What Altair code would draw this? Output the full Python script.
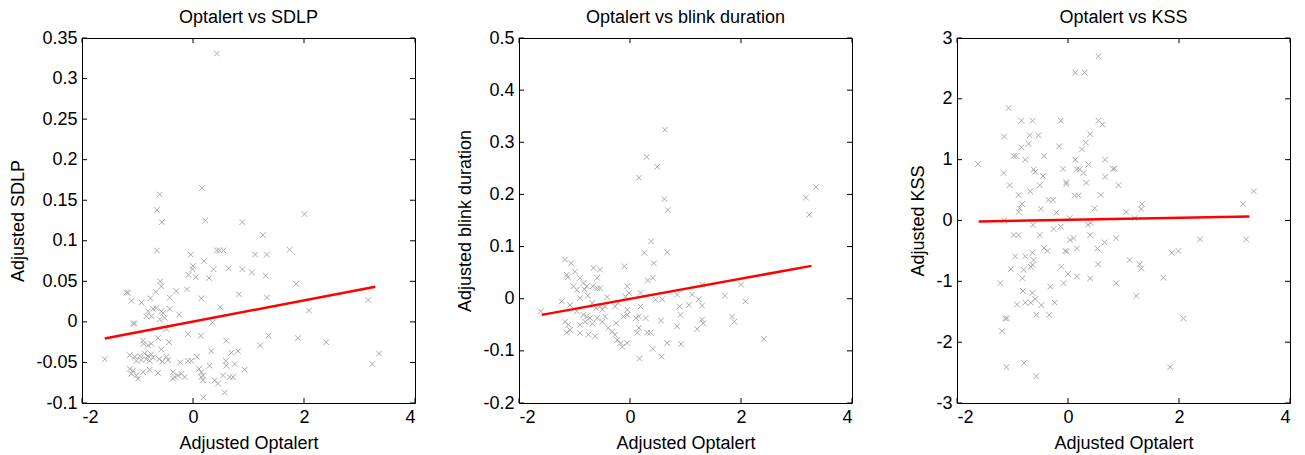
import altair as alt
import pandas as pd

# ---------------- data ----------------
X_TICKS = [-2, 0, 2, 4]
Y1_TICKS = [-0.1, -0.05, 0, 0.05, 0.1, 0.15, 0.2, 0.25, 0.3, 0.35]
Y2_TICKS = [-0.2, -0.1, 0, 0.1, 0.2, 0.3, 0.4, 0.5]
Y3_TICKS = [-3, -2, -1, 0, 1, 2, 3]

titles = ["Optalert vs SDLP", "Optalert vs blink duration", "Optalert vs KSS"]
y_titles = ["Adjusted SDLP", "Adjusted blink duration", "Adjusted KSS"]
x_title = "Adjusted Optalert"

p1_pts = [
    (0.43, 0.331), (0.16, 0.165), (-0.60, 0.157), (-0.65, 0.138), (-0.56, 0.123), (0.22, 0.125),
    (0.89, 0.123), (2.01, 0.133), (1.26, 0.107), (-0.65, 0.088), (0.43, 0.088), (0.48, 0.088),
    (0.55, 0.088), (1.74, 0.089), (-0.04, 0.083), (1.12, 0.083), (1.33, 0.083), (0.00, 0.069),
    (-0.01, 0.065), (0.20, 0.075), (0.37, 0.065), (0.64, 0.066), (0.89, 0.065), (1.06, 0.061),
    (-0.08, 0.058), (0.05, 0.055), (0.29, 0.054), (1.31, 0.057), (-0.59, 0.050), (-0.57, 0.044),
    (1.86, 0.047), (-1.20, 0.036), (-1.17, 0.036), (-0.67, 0.037), (-0.30, 0.038), (-0.11, 0.040),
    (-0.77, 0.029), (-0.42, 0.030), (0.15, 0.029), (0.83, 0.034), (1.33, 0.030), (3.16, 0.027),
    (2.09, 0.014), (1.36, -0.017), (1.89, -0.020), (2.40, -0.025), (1.21, -0.029), (3.35, -0.039),
    (-1.59, -0.046), (3.23, -0.052), (0.93, -0.059), (-1.11, 0.026), (-0.93, 0.024),
    (-0.81, 0.013), (-0.72, 0.016), (-0.66, 0.017), (-0.57, 0.013), (-0.54, 0.011), (-0.42, 0.016),
    (-0.25, 0.009), (-0.84, 0.007), (-0.75, 0.007), (-0.60, 0.003), (-0.51, 0.005), (-1.08, -0.002),
    (-1.05, -0.002), (0.49, 0.018), (0.35, -0.001), (-0.48, -0.009), (-0.09, -0.015), (0.14, -0.017),
    (-0.63, -0.020), (0.60, -0.023), (-0.43, -0.025), (-0.90, -0.023), (-0.89, -0.027), (-0.81, -0.029),
    (-0.75, -0.027), (-0.57, -0.034), (0.33, -0.036), (0.69, -0.038), (0.81, -0.036),
    (-1.14, -0.041), (-1.05, -0.043), (-0.96, -0.042), (-0.87, -0.039), (-0.81, -0.042), (-0.75, -0.040),
    (-1.02, -0.048), (-0.93, -0.047), (-0.84, -0.046), (-0.78, -0.048), (-0.72, -0.044), (-0.61, -0.046),
    (-0.55, -0.049), (-0.48, -0.043), (-0.45, -0.047), (-0.23, -0.050), (-0.09, -0.048), (-0.03, -0.048),
    (0.07, -0.043), (0.11, -0.058), (0.15, -0.062), (0.18, -0.066), (0.30, -0.054), (0.59, -0.048),
    (0.60, -0.054), (-1.14, -0.058), (-1.08, -0.060), (-1.11, -0.064), (-1.02, -0.066), (-0.99, -0.070),
    (-0.90, -0.062), (-0.78, -0.059), (-0.63, -0.063), (-0.36, -0.062), (-0.33, -0.068), (-0.27, -0.066),
    (-0.21, -0.064), (-0.15, -0.068), (-0.36, -0.070), (0.15, -0.068), (0.18, -0.072), (0.39, -0.072),
    (0.45, -0.076), (0.54, -0.066), (0.66, -0.068), (0.72, -0.068), (0.57, -0.087), (0.19, -0.093),
    (0.75, -0.052),
]
p1_line = [(-1.59, -0.0205), (3.285, 0.0434)]

p2_pts = [
    (0.63, 0.324), (0.30, 0.272), (0.49, 0.253), (0.16, 0.232), (0.62, 0.191), (0.68, 0.170),
    (3.17, 0.194), (3.35, 0.214), (3.23, 0.161), (0.38, 0.110), (-1.61, -0.024), (1.71, 0.006),
    (2.00, 0.027), (2.08, -0.005), (1.84, -0.034), (1.88, -0.044), (2.41, -0.077), (0.57, -0.111),
    (0.17, -0.115), (1.30, 0.027),
    (0.26, 0.088), (0.67, 0.089), (-1.17, 0.075), (-1.06, 0.068), (0.43, 0.068), (-0.10, 0.062),
    (-0.66, 0.059), (-0.54, 0.056), (-1.14, 0.046), (-1.12, 0.041), (-0.99, 0.052), (-0.90, 0.040),
    (-0.59, 0.040), (0.32, 0.035), (0.41, 0.040), (-0.84, 0.030), (-0.78, 0.024), (-0.82, 0.018),
    (-1.02, 0.024), (-0.96, 0.017), (-0.67, 0.024), (-0.59, 0.020), (-0.54, 0.020), (-0.05, 0.024),
    (-0.02, 0.011), (-0.08, 0.004), (-0.90, 0.001), (-0.76, 0.006), (-0.41, 0.003), (0.19, 0.011),
    (0.46, -0.002), (0.58, -0.001), (0.85, 0.008), (1.12, 0.008), (1.24, -0.001), (1.30, -0.013),
    (-1.23, -0.005), (-1.08, -0.012), (-0.68, -0.008), (-0.61, -0.018), (-0.54, -0.015), (-0.50, -0.021),
    (-0.45, -0.015), (-0.27, -0.015), (-0.21, -0.008), (-0.05, -0.021), (0.19, -0.015), (0.16, -0.034),
    (0.11, -0.037), (0.28, -0.037), (0.56, -0.042), (0.89, -0.015), (0.91, -0.031), (1.06, -0.012),
    (1.30, -0.040), (-0.96, -0.024), (-0.84, -0.031), (-0.78, -0.034), (-0.72, -0.037), (-1.17, -0.044),
    (-1.11, -0.050), (-1.08, -0.060), (-1.14, -0.065), (-0.90, -0.050), (-0.81, -0.044), (-0.68, -0.048),
    (-0.59, -0.037), (-0.50, -0.044), (-0.45, -0.034), (-0.25, -0.047), (-0.05, -0.031), (-0.12, -0.034),
    (-0.39, -0.056), (-0.32, -0.063), (-0.27, -0.069), (-0.63, -0.072), (-0.75, -0.069), (-0.90, -0.066),
    (-0.23, -0.079), (-0.17, -0.085), (-0.14, -0.092), (-0.05, -0.085), (0.16, -0.056), (0.13, -0.065),
    (0.31, -0.065), (0.37, -0.065), (0.85, -0.053), (1.21, -0.058), (0.67, -0.085), (0.92, -0.087),
    (0.41, -0.096), (1.32, -0.047),
]
p2_line = [(-1.59, -0.031), (3.27, 0.063)]

p3_pts = [
    (0.55, 2.70), (0.13, 2.43), (0.30, 2.43), (-1.07, 1.85), (-0.84, 1.64), (-0.64, 1.64), (-0.13, 1.64),
    (0.55, 1.64), (0.62, 1.58), (-1.15, 1.38), (-0.69, 1.40), (-0.53, 1.40), (0.40, 1.42), (0.32, 1.28),
    (-0.84, 1.20), (-0.71, 1.26), (-0.16, 1.22), (0.25, 1.17), (-0.98, 1.06), (-0.93, 1.06), (-0.77, 1.00),
    (-0.43, 1.06), (-1.62, 0.93), (-1.16, 0.78), (-0.62, 0.84), (-0.59, 0.80), (-0.45, 0.73), (-0.09, 0.85),
    (0.13, 1.00), (0.16, 0.84), (0.21, 0.84), (0.28, 0.78), (0.37, 0.92), (0.67, 1.00), (0.81, 0.85),
    (0.84, 0.85), (0.67, 0.72), (-0.03, 0.63), (-0.03, 0.60), (0.33, 0.62), (0.91, 0.58), (-1.05, 0.58),
    (-0.68, 0.48), (-0.51, 0.58), (-0.89, 0.42), (0.12, 0.41), (0.19, 0.41), (0.59, 0.42), (-0.35, 0.34),
    (-0.27, 0.34), (-0.83, 0.27), (-0.87, 0.20), (-0.89, 0.14), (-0.49, 0.19), (-0.21, 0.13), (0.48, 0.20),
    (1.33, 0.27), (1.32, 0.19), (1.05, 0.14), (1.20, 0.04), (3.35, 0.48), (3.15, 0.27), (3.21, -0.31),
    (2.38, -0.31), (-1.15, 0.00), (-0.63, -0.07), (0.03, 0.04), (-0.26, -0.14), (-0.13, -0.10), (0.36, -0.07),
    (0.41, -0.04), (-0.98, -0.24), (-0.89, -0.24), (-0.51, -0.24), (0.40, -0.24), (0.04, -0.32), (0.10, -0.29),
    (0.66, -0.36), (0.53, -0.46), (0.87, -0.29), (-0.43, -0.45), (-0.37, -0.50), (-0.05, -0.50), (-0.02, -0.51),
    (0.16, -0.46), (1.87, -0.53), (1.99, -0.50), (-0.95, -0.59), (-0.77, -0.59), (-0.64, -0.53), (-0.62, -0.65),
    (-0.67, -0.76), (-0.64, -0.73), (-1.03, -0.80), (-0.80, -0.81), (-0.12, -0.76), (0.00, -0.88), (0.54, -0.72),
    (1.11, -0.65), (1.29, -0.72), (1.32, -0.79), (1.72, -0.94), (-0.82, -0.95), (0.16, -0.92), (0.40, -0.95),
    (-1.22, -1.03), (-0.08, -1.03), (-0.32, -1.09), (0.87, -1.03), (1.23, -1.24), (-0.81, -1.16), (-0.64, -1.19),
    (-0.92, -1.38), (-0.77, -1.35), (-0.67, -1.35), (-0.59, -1.29), (-0.48, -1.39), (-0.24, -1.35),
    (-1.13, -1.61), (-1.10, -1.61), (-0.57, -1.55), (-0.34, -1.55), (2.08, -1.61), (-1.19, -1.82),
    (-1.11, -2.41), (-0.79, -2.34), (1.84, -2.41), (-0.57, -2.56),
]
p3_line = [(-1.61, -0.016), (3.27, 0.066)]

# ---------------- styling ----------------
FONT = "Liberation Sans"
FS = 18
W, H = 333, 365
TICK_LEN = 5
X_SHAPE = "M-1,-1L1,1M-1,1L1,-1"
LABEL_EXPR = "toString(datum.value)"


def panel(pts, line, ydom, yticks, title, ytitle):
    dfp = pd.DataFrame(pts, columns=["x", "y"])
    dfl = pd.DataFrame(line, columns=["x", "y"])
    dfxt = pd.DataFrame({"t": X_TICKS})
    dfyt = pd.DataFrame({"t": yticks})
    xs = alt.Scale(domain=[-2, 4], nice=False, zero=False)
    ys = alt.Scale(domain=ydom, nice=False, zero=False)
    common = dict(domain=False, grid=False, ticks=True, tickSize=0, tickOpacity=0)
    ax_bottom = alt.Axis(orient="bottom", values=X_TICKS, labelExpr=LABEL_EXPR, title=x_title,
                         labelPadding=5, titlePadding=8, **common)
    ax_left = alt.Axis(orient="left", values=yticks, labelExpr=LABEL_EXPR, title=ytitle,
                       labelPadding=5, titlePadding=8, **common)

    points = alt.Chart(dfp).mark_point(
        shape=X_SHAPE, filled=False, size=32, color="#aaaaaa", strokeWidth=1, opacity=1
    ).encode(
        x=alt.X("x:Q", scale=xs, axis=ax_bottom),
        y=alt.Y("y:Q", scale=ys, axis=ax_left),
    )
    fit = alt.Chart(dfl).mark_line(color="#ff0000", strokeWidth=2.5).encode(
        x=alt.X("x:Q", scale=xs, axis=None),
        y=alt.Y("y:Q", scale=ys, axis=None),
    )
    # inward tick marks on all four sides (MATLAB box style)
    tick_kw = dict(color="black", strokeWidth=1)
    t_left = alt.Chart(dfyt).mark_rule(**tick_kw).encode(
        y=alt.Y("t:Q", scale=ys, axis=None), x=alt.value(0), x2=alt.value(TICK_LEN))
    t_right = alt.Chart(dfyt).mark_rule(**tick_kw).encode(
        y=alt.Y("t:Q", scale=ys, axis=None), x=alt.value(W - TICK_LEN), x2=alt.value(W))
    t_bottom = alt.Chart(dfxt).mark_rule(**tick_kw).encode(
        x=alt.X("t:Q", scale=xs, axis=None), y=alt.value(H - TICK_LEN), y2=alt.value(H))
    t_top = alt.Chart(dfxt).mark_rule(**tick_kw).encode(
        x=alt.X("t:Q", scale=xs, axis=None), y=alt.value(0), y2=alt.value(TICK_LEN))

    return alt.layer(points, fit, t_left, t_right, t_bottom, t_top).resolve_axis(
        x="independent", y="independent"
    ).properties(
        width=W, height=H,
        title=alt.TitleParams(title, fontSize=FS, font=FONT, fontWeight="normal",
                              offset=2, color="black"),
    )


c1 = panel(p1_pts, p1_line, [-0.1, 0.35], Y1_TICKS, titles[0], y_titles[0])
c2 = panel(p2_pts, p2_line, [-0.2, 0.5], Y2_TICKS, titles[1], y_titles[1])
c3 = panel(p3_pts, p3_line, [-3, 3], Y3_TICKS, titles[2], y_titles[2])

inner = alt.hconcat(c1, c2, spacing=40)
chart = alt.hconcat(inner, c3, spacing=56).properties(
    padding={"left": 9, "top": 8, "right": 5, "bottom": 0},
    background="white",
).configure_view(
    stroke="black", strokeWidth=1
).configure_axis(
    labelFont=FONT, titleFont=FONT, labelFontSize=FS, titleFontSize=FS,
    labelColor="black", titleColor="black", titleFontWeight="normal",
)

chart.save("out.html", embed_options={"renderer": "svg", "actions": False})
